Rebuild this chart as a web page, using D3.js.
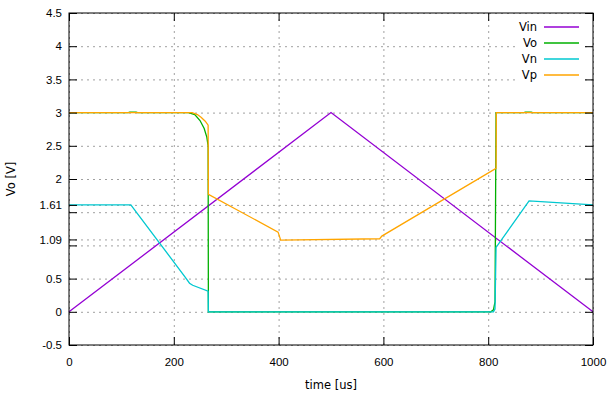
<!DOCTYPE html>
<html lang="en">
<head>
<meta charset="utf-8">
<title>Vo Vn Vp</title>
<script src="https://d3js.org/d3.v7.min.js"></script>
<style>
  body { margin: 0; background: white; }
  svg { font-family: "DejaVu Sans", Verdana, sans-serif; }
  .grid line { stroke: #a0a0a0; stroke-dasharray: 2,4; stroke-width: 1; }
  .grid path { display: none; }
  .ax path { display: none; }
  .ax line { stroke: black; stroke-width: 1; }
  .ax text { font-size: 11.5px; fill: black; }
</style>
</head>
<body>
<script>
// chart data (time in us, voltage in V)
const seriesNames = ["Vin", "Vo", "Vn", "Vp"];
const seriesColors = ["#9400d3", "#00b000", "#00c8d0", "#ffa500"];

const vinT = [0, 500, 1000];
const vinV = [0, 3, 0];

const voT = [0, 113, 116, 128, 131, 228, 240, 250, 258, 263, 265.5, 266, 805, 810, 813, 815, 868, 871, 882, 885, 1000];
const voV = [3, 3, 3.008, 3.008, 3, 3, 2.97, 2.88, 2.76, 2.63, 2.5, 0, 0, 0.03, 0.15, 3, 3, 3.008, 3.008, 3, 3];

const vnT = [0, 118, 222, 230, 236, 265.5, 266, 810, 813, 815, 878, 1000];
const vnV = [1.61, 1.61, 0.52, 0.43, 0.40, 0.31, 0, 0, 0.04, 0.97, 1.67, 1.61];

const vpT = [0, 235, 245, 252, 260, 265.5, 266, 399, 404, 593, 597, 815, 815.5, 1000];
const vpV = [3, 3, 2.97, 2.93, 2.87, 2.81, 1.77, 1.20, 1.08, 1.10, 1.14, 2.16, 3, 3];

const xTicks = [0, 200, 400, 600, 800, 1000];
const yTicks = [-0.5, 0, 0.5, 1, 1.09, 1.5, 1.61, 2, 2.5, 3, 3.5, 4, 4.5];
const yTickLabels = ["-0.5", "0", "0.5", "", "1.09", "", "1.61", "2", "2.5", "3", "3.5", "4", "4.5"];

const xLabel = "time [us]";
const yLabel = "Vo [V]";

const W = 610, H = 396;
const margin = {left: 69, right: 17, top: 13, bottom: 51};
const pw = W - margin.left - margin.right;
const ph = H - margin.top - margin.bottom;

const x = d3.scaleLinear().domain([0, 1000]).range([0, pw]);
const y = d3.scaleLinear().domain([-0.5, 4.5]).range([ph, 0]);

const svg = d3.select("body").append("svg")
    .attr("width", W)
    .attr("height", H);

const g = svg.append("g")
    .attr("transform", "translate(" + margin.left + "," + margin.top + ")");

// grid
g.append("g").attr("class", "grid")
    .call(d3.axisLeft(y).tickValues(yTicks).tickSize(-pw).tickFormat(""));
g.append("g").attr("class", "grid")
    .attr("transform", "translate(0," + ph + ")")
    .call(d3.axisBottom(x).tickValues(xTicks).tickSize(-ph).tickFormat(""));

// series
const data = [
  d3.zip(vinT, vinV),
  d3.zip(voT, voV),
  d3.zip(vnT, vnV),
  d3.zip(vpT, vpV)
];

const line = d3.line()
    .x(function(d) { return x(d[0]); })
    .y(function(d) { return y(d[1]); });

g.selectAll(".series")
    .data(data)
    .enter().append("path")
    .attr("class", "series")
    .attr("d", line)
    .attr("fill", "none")
    .attr("stroke", function(d, i) { return seriesColors[i]; })
    .attr("stroke-width", 1.3);

// legend (white box hides the grid behind it)
const legend = g.append("g").attr("transform", "translate(" + (pw - 78) + ",0)");
legend.append("rect")
    .attr("x", 0).attr("y", 1)
    .attr("width", 66).attr("height", 70)
    .attr("fill", "white");
seriesNames.forEach(function(name, i) {
  const ly = 14 + i * 16;
  legend.append("line")
      .attr("x1", 29).attr("x2", 64)
      .attr("y1", ly).attr("y2", ly)
      .attr("stroke", seriesColors[i])
      .attr("stroke-width", 1.3);
  legend.append("text")
      .attr("x", 22).attr("y", ly)
      .attr("dy", "0.35em")
      .attr("text-anchor", "end")
      .style("font-size", "11.5px")
      .text(name);
});

// axes: ticks point inward, mirrored on all sides
g.append("g").attr("class", "ax")
    .call(d3.axisLeft(y).tickValues(yTicks).tickSize(-8).tickPadding(7)
      .tickFormat(function(d, i) { return yTickLabels[i]; }));
g.append("g").attr("class", "ax")
    .attr("transform", "translate(" + pw + ",0)")
    .call(d3.axisRight(y).tickValues(yTicks).tickSize(-8).tickFormat(""));
g.append("g").attr("class", "ax")
    .attr("transform", "translate(0," + ph + ")")
    .call(d3.axisBottom(x).tickValues(xTicks).tickSize(-8).tickPadding(13)
      .tickFormat(d3.format("d")));
g.append("g").attr("class", "ax")
    .call(d3.axisTop(x).tickValues(xTicks).tickSize(-8).tickFormat(""));

g.append("rect")
    .attr("width", pw).attr("height", ph)
    .attr("fill", "none")
    .attr("stroke", "black")
    .attr("stroke-width", 1);

// axis titles
svg.append("text")
    .attr("x", margin.left + pw / 2)
    .attr("y", 389)
    .attr("text-anchor", "middle")
    .style("font-size", "11.5px")
    .text(xLabel);

svg.append("text")
    .attr("transform", "translate(15," + (margin.top + ph / 2) + ") rotate(-90)")
    .attr("text-anchor", "middle")
    .style("font-size", "11.5px")
    .text(yLabel);
</script>
</body>
</html>
